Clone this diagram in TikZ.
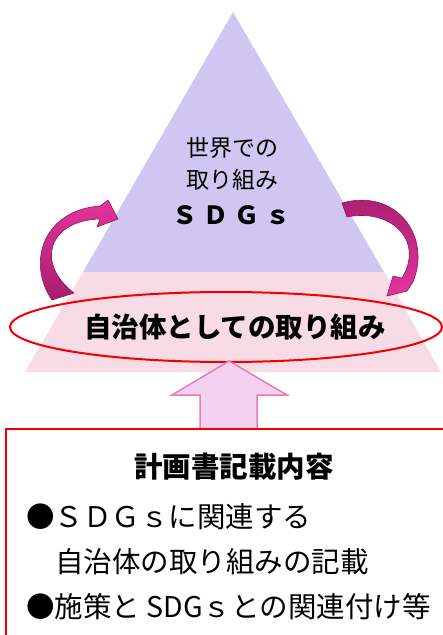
\documentclass[tikz,border=0pt]{standalone}
\usepackage{fontspec}
\setmainfont{Noto Sans CJK JP}
\usetikzlibrary{shapes.geometric}
\definecolor{pyr}{RGB}{207,199,241}
\definecolor{pinkbg}{RGB}{247,219,229}
\definecolor{magbright}{RGB}{228,52,156}
\definecolor{magdark}{RGB}{166,30,110}
\definecolor{magedge}{RGB}{140,26,94}
\definecolor{upfill}{RGB}{244,209,241}
\definecolor{upedge}{RGB}{233,122,181}
\definecolor{myred}{RGB}{240,0,0}
\tikzset{
  txt/.style={inner sep=0pt, text=black},
  curvarr/.style={draw=magedge, line width=0.6pt, line join=round},
  bodytxt/.style={txt, anchor=west, font=\fontsize{28.5}{28.5}\selectfont},
}
\begin{document}
\begin{tikzpicture}[x=1pt,y=-1pt]
\useasboundingbox (0,0) rectangle (443,635);
\clip (0,0) rectangle (443,635);
% pyramid
\fill[pyr] (233,12) -- (384,272) -- (83,272) -- cycle;
\fill[pinkbg] (83,272) -- (384,272) -- (441,372) -- (25,372) -- cycle;
% curved arrows
\path[curvarr, top color=magbright, bottom color=magdark]
  (52,300) .. controls (26,262) and (44,210) .. (100,206) -- (108,200) -- (118,219) -- (97,227) -- (100,219) .. controls (50,220) and (34,262) .. (74,293) -- cycle;
\path[curvarr, top color=magdark, bottom color=magbright]
  (342,203) .. controls (395,188) and (432,235) .. (413,282) -- (407,291) -- (387,296) -- (393,276) -- (402,278) .. controls (425,240) and (390,208) .. (347,217) -- cycle;
% ellipse
\node[ellipse, draw=myred, line width=2pt, minimum width=432pt, minimum height=70pt, inner sep=0pt] (ell) at (226,327) {};
% texts in pyramid
\node[txt, font=\fontsize{23}{23}\selectfont] (t1) at (232,148) {世界での};
\node[txt, font=\fontsize{23}{23}\selectfont] (t2) at (232,180) {取り組み};
\node[txt, font=\bfseries\fontsize{25}{25}\selectfont] (t3) at (231,215) {Ｓ\hspace{6pt}Ｄ\hspace{6pt}Ｇ\hspace{6pt}ｓ};
\node[txt, font=\bfseries\fontsize{27.5}{27.5}\selectfont] (t4) at (235,327) {自治体としての取り組み};
% up arrow
\path[fill=upfill, draw=upedge, line width=1.5pt, line join=miter]
  (229,361) -- (287,395) -- (257,395) -- (257,429) -- (200,429) -- (200,395) -- (172,395) -- cycle;
% box
\draw[myred, line width=1.5pt] (6,429) rectangle (470,670);
\node[txt, font=\bfseries\fontsize{28.5}{28.5}\selectfont] (h) at (234,467) {計画書記載内容};
\node[bodytxt] (l1) at (26,517) {●ＳＤＧｓに関連する};
\node[bodytxt] (l2) at (55,562) {自治体の取り組みの記載};
\node[bodytxt] (l3) at (26,607) {●施策と SDGｓとの関連付け等};
\end{tikzpicture}
\end{document}
